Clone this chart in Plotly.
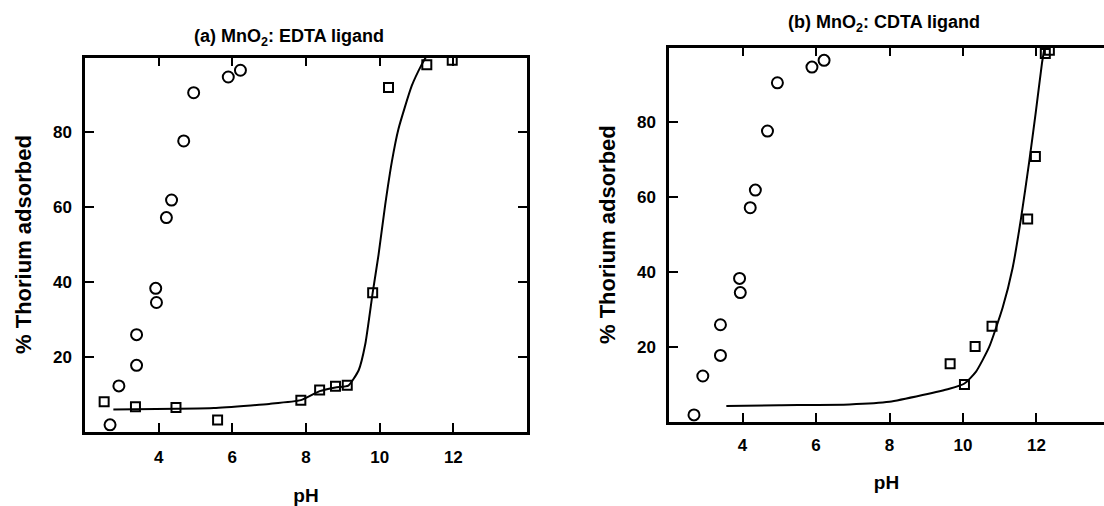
import plotly.graph_objects as go

# ---- data ----
ph_circles = [2.68, 2.92, 3.40, 3.40, 3.94, 3.92, 4.21, 4.35, 4.68, 4.95, 5.89, 6.22]
pct_circles = [1.8, 12.2, 17.7, 25.9, 34.5, 38.3, 57.2, 61.9, 77.7, 90.6, 94.8, 96.6]

ph_sq_a = [2.52, 3.37, 4.47, 5.60, 7.86, 8.37, 8.80, 9.12, 9.81, 10.24, 11.28, 11.97]
pct_sq_a = [8.0, 6.6, 6.4, 3.1, 8.4, 11.1, 12.1, 12.4, 37.1, 92.0, 98.1, 99.3]

ph_fit_a = [2.77, 4.5, 5.5, 6.5, 7.0, 7.86, 8.37, 8.8, 9.15, 9.43, 9.61, 9.81, 9.97,
            10.15, 10.33, 10.51, 10.87, 11.14, 11.25]
pct_fit_a = [5.9, 6.1, 6.3, 7.0, 7.4, 8.4, 10.8, 11.8, 12.3, 16.4, 23.4, 37.1, 47.3,
             60.6, 72.1, 80.9, 92.4, 98.1, 100.0]

ph_sq_b = [9.65, 10.04, 10.33, 10.79, 11.76, 11.97, 12.24, 12.35]
pct_sq_b = [15.5, 9.9, 20.1, 25.5, 54.2, 70.9, 98.4, 99.3]

ph_fit_b = [3.56, 5.0, 6.91, 8.0, 8.9, 9.63, 10.04, 10.35, 10.71, 11.08, 11.35, 11.58,
            11.80, 11.98, 12.15, 12.21]
pct_fit_b = [4.2, 4.4, 4.6, 5.3, 7.1, 8.8, 10.2, 13.3, 19.9, 30.5, 41.1, 54.4,
             69.4, 82.7, 95.9, 99.5]

x_ticks = [4, 6, 8, 10, 12]
y_ticks = [20, 40, 60, 80]
titles = ["(a) MnO<sub>2</sub>: EDTA ligand", "(b) MnO<sub>2</sub>: CDTA ligand"]
x_title = "pH"
y_title = "% Thorium adsorbed"

W, H = 1104, 506
FONT = "Liberation Sans, Arial, sans-serif"

fig = go.Figure()

circ = dict(symbol="circle-open", size=11, color="black", line=dict(width=2, color="black"))
sq = dict(symbol="square-open", size=9, color="black", line=dict(width=2, color="black"))
fit_line = dict(color="black", width=2, shape="spline", smoothing=0.5)

# panel a
fig.add_trace(go.Scatter(x=ph_fit_a, y=pct_fit_a, mode="lines", line=fit_line,
                         xaxis="x", yaxis="y", showlegend=False))
fig.add_trace(go.Scatter(x=ph_circles, y=pct_circles, mode="markers", marker=circ, xaxis="x", yaxis="y", showlegend=False))
fig.add_trace(go.Scatter(x=ph_sq_a, y=pct_sq_a, mode="markers", marker=sq, xaxis="x", yaxis="y", showlegend=False))
# panel b
fig.add_trace(go.Scatter(x=ph_fit_b, y=pct_fit_b, mode="lines", line=fit_line,
                         xaxis="x2", yaxis="y2", showlegend=False))
fig.add_trace(go.Scatter(x=ph_circles, y=pct_circles, mode="markers", marker=circ, xaxis="x2", yaxis="y2", showlegend=False))
fig.add_trace(go.Scatter(x=ph_sq_b, y=pct_sq_b, mode="markers", marker=sq, xaxis="x2", yaxis="y2", showlegend=False))

def px_x(p):
    return p / W

def px_y(p):
    return 1 - p / H

tickfont = dict(family=FONT, size=17, color="black", weight="bold")
xtitle_font = dict(family=FONT, size=19, color="black", weight="bold")
ytitle_font = dict(family=FONT, size=22, color="black", weight="bold")
common = dict(showgrid=False, zeroline=False, showline=True, linecolor="black", linewidth=2.5,
              ticks="inside", ticklen=9, tickwidth=2, tickcolor="black", tickfont=tickfont)

ax_x_a = dict(common, domain=[px_x(85), px_x(527)], range=[2, 14], tickvals=x_ticks, mirror="ticks",
              anchor="y", ticklabelstandoff=8,
              title=dict(text=x_title, font=xtitle_font, standoff=26))
ax_y_a = dict(common, domain=[px_y(435), px_y(58)], range=[0, 100], tickvals=y_ticks, mirror="ticks",
              anchor="x", ticklabelstandoff=7,
              title=dict(text=y_title, font=ytitle_font, standoff=16))
x2_end = 14 - (1110 - 1104) / 36.8
ax_x_b = dict(common, domain=[px_x(669), 1.0], range=[2, x2_end], tickvals=x_ticks, mirror="ticks",
              anchor="y2", ticklabelstandoff=6,
              title=dict(text=x_title, font=xtitle_font, standoff=22))
ax_y_b = dict(common, domain=[px_y(425), px_y(48)], range=[0, 100], tickvals=y_ticks, mirror=False,
              anchor="x2", ticklabelstandoff=7,
              title=dict(text=y_title, font=ytitle_font, standoff=16))
ax_y_b_right = dict(overlaying="y2", side="right", anchor="x2", range=[0, 100], tickvals=y_ticks,
                    showgrid=False, zeroline=False, showline=False, ticks="inside", ticklen=9,
                    tickwidth=2, tickcolor="black", showticklabels=False)

fig.update_layout(
    width=W, height=H, margin=dict(l=0, r=0, t=0, b=0),
    paper_bgcolor="white", plot_bgcolor="white",
    xaxis=ax_x_a, yaxis=ax_y_a, xaxis2=ax_x_b, yaxis2=ax_y_b, yaxis3=ax_y_b_right,
    showlegend=False,
    annotations=[
        dict(text=titles[0], x=px_x(289), y=px_y(38), xref="paper", yref="paper", showarrow=False,
             xanchor="center", yanchor="middle", font=dict(family=FONT, size=18, color="black", weight="bold")),
        dict(text=titles[1], x=px_x(884), y=px_y(24), xref="paper", yref="paper", showarrow=False,
             xanchor="center", yanchor="middle", font=dict(family=FONT, size=18, color="black", weight="bold")),
    ],
)

fig.write_html("out.html", config={"displayModeBar": False},
               post_script="document.body.style.margin='0';document.body.style.overflow='hidden';")
